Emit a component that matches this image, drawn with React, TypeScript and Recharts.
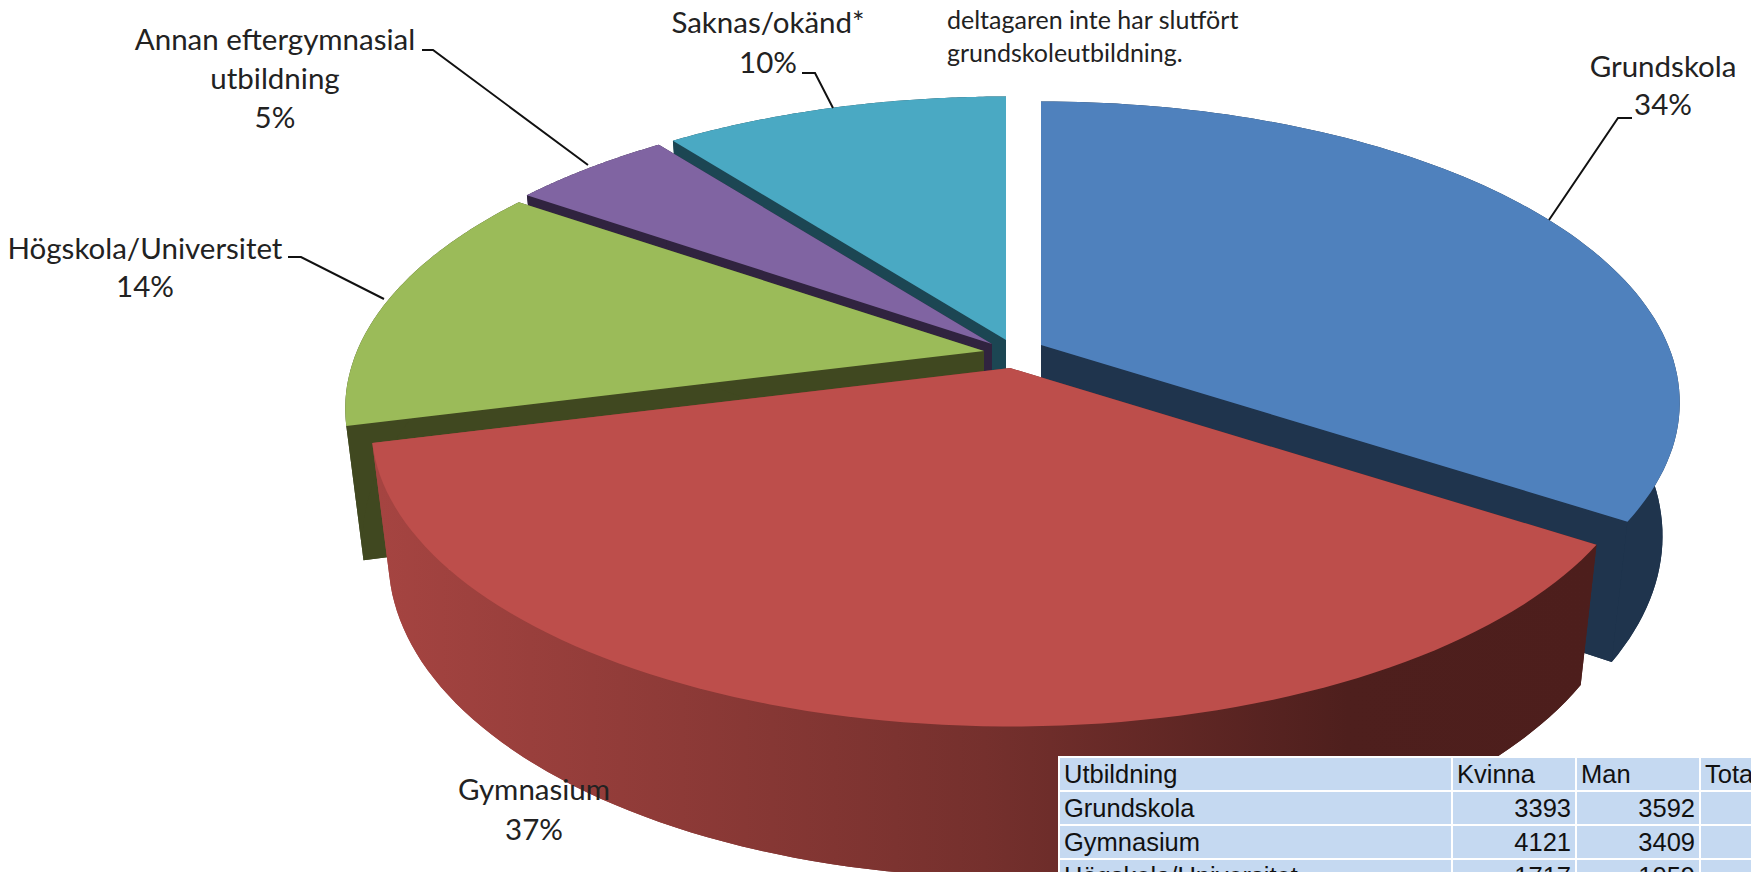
import { PieChart, Pie } from "recharts";

const names = ["Grundskola", "Gymnasium", "Högskola/Universitet", "Annan eftergymnasial utbildning", "Saknas/okänd*"];
// participants per group, the first three are the table totals, the last two estimated from the slices
const participants = [6985, 7530, 2776, 1000, 2140];

const tableHeader = ["Utbildning", "Kvinna", "Man", "Total"];
const tableNames = ["Grundskola", "Gymnasium", "Högskola/Universitet"];
const tableWomen = [3393, 4121, 1717];
const tableMen = [3592, 3409, 1059];

const noteLines = ["deltagaren inte har slutfört", "grundskoleutbildning."];

const pieData = names.map((name, i) => ({ name, value: participants[i] }));

// painted back to front, the pie is faked 3D so order matters
const drawOrder = ["Saknas/okänd*", "Annan eftergymnasial utbildning", "Högskola/Universitet", "Grundskola", "Gymnasium"];

const WIDTH = 1751;
const HEIGHT = 872;
const RX = 627;
const RY = 290;
const TILT = 0.191; // perspective, near edge is bigger than far edge
const DEPTH = 130;
const FLOOR = 0.973;

const SLICE_STYLE: Record<string, { top: string; side: string; apex: [number, number] }> = {
  Grundskola: { top: "#4f81bd", side: "#1f344d", apex: [1041, 345] },
  Gymnasium: { top: "#bd4e4b", side: "url(#redSide)", apex: [1010, 368] },
  "Högskola/Universitet": { top: "#9bbb59", side: "#404820", apex: [984, 351] },
  "Annan eftergymnasial utbildning": { top: "#8064a2", side: "#30233f", apex: [992, 344] },
  "Saknas/okänd*": { top: "#4aa9c3", side: "#1c4653", apex: [1006, 340] },
};

const LABELS: Record<string, { x: number; lines: { text: string; y: number }[]; leader?: string }> = {
  Grundskola: {
    x: 1663,
    lines: [{ text: "Grundskola", y: 77 }, { text: "34%", y: 115 }],
    leader: "1632,118 1618,118 1549,220",
  },
  Gymnasium: {
    x: 534,
    lines: [{ text: "Gymnasium", y: 800 }, { text: "37%", y: 840 }],
  },
  "Högskola/Universitet": {
    x: 145,
    lines: [{ text: "Högskola/Universitet", y: 259 }, { text: "14%", y: 297 }],
    leader: "288,257 301,257 384,299",
  },
  "Annan eftergymnasial utbildning": {
    x: 275,
    lines: [{ text: "Annan eftergymnasial", y: 50 }, { text: "utbildning", y: 89 }, { text: "5%", y: 128 }],
    leader: "422,50 433,50 588,165",
  },
  "Saknas/okänd*": {
    x: 768,
    lines: [{ text: "Saknas/okänd*", y: 33 }, { text: "10%", y: 73 }],
    leader: "802,73 815,73 833,108",
  },
};

function project(angle: number, floor: boolean) {
  const rad = (angle * Math.PI) / 180;
  const u = Math.cos(rad);
  const v = Math.sin(rad);
  const s = 1 / (1 + TILT * v);
  if (floor) return [RX * u * s * FLOOR, -RY * v * s * FLOOR + DEPTH * s];
  return [RX * u * s, -RY * v * s];
}

function arc(start: number, end: number, floor: boolean, ax: number, ay: number) {
  const pts: string[] = [];
  for (let i = 0; i <= 90; i++) {
    const [x, y] = project(start + ((end - start) * i) / 90, floor);
    pts.push(`${(ax + x).toFixed(1)},${(ay + y).toFixed(1)}`);
  }
  return pts;
}

function Slice(props: any) {
  const style = SLICE_STYLE[props.name];
  const [ax, ay] = style.apex;
  const { startAngle, endAngle } = props;
  const rim = arc(startAngle, endAngle, false, ax, ay);
  const floorRim = arc(startAngle, endAngle, true, ax, ay);
  const bottom = `${ax},${ay + DEPTH}`;
  const top = `${ax},${ay}`;
  return (
    <g>
      <polygon points={[bottom, ...floorRim].join(" ")} fill={style.side} />
      <polygon points={[top, rim[0], floorRim[0], bottom].join(" ")} fill={style.side} />
      <polygon points={[top, rim[rim.length - 1], floorRim[floorRim.length - 1], bottom].join(" ")} fill={style.side} />
      <polygon points={[...rim, ...[...floorRim].reverse()].join(" ")} fill={style.side} />
      <polygon points={[top, ...rim].join(" ")} fill={style.top} />
    </g>
  );
}

function SliceLabel(props: any) {
  const l = LABELS[props.name];
  return (
    <g>
      {l.leader && <polyline points={l.leader} fill="none" stroke="#111" strokeWidth={2} />}
      {l.lines.map((line) => (
        <text key={line.text} x={l.x} y={line.y} textAnchor="middle" fontFamily="Lato" fontSize={29.5} fill="#222">
          {line.text}
        </text>
      ))}
    </g>
  );
}

const cell = { background: "#c5d9f1", padding: "0 4px", lineHeight: "32px", height: 32, whiteSpace: "nowrap" as const };

export default function App() {
  const rows = tableNames.map((name, i) => [name, tableWomen[i], tableMen[i], ""]);
  return (
    <div style={{ position: "absolute", left: 0, top: 0, width: WIDTH, height: HEIGHT, overflow: "hidden", background: "#fff" }}>
      <PieChart width={WIDTH} height={HEIGHT}>
        <defs>
          <linearGradient id="redSide" gradientUnits="userSpaceOnUse" x1={380} y1={0} x2={1590} y2={0}>
            <stop offset="0%" stopColor="#a54441" />
            <stop offset="50%" stopColor="#75302d" />
            <stop offset="80%" stopColor="#4e1f1d" />
            <stop offset="100%" stopColor="#4d1e1c" />
          </linearGradient>
        </defs>
        {drawOrder.map((layer, i) => (
          <Pie
            key={layer}
            data={pieData}
            dataKey="value"
            nameKey="name"
            cx={1000}
            cy={350}
            outerRadius={RX}
            startAngle={90}
            endAngle={-270}
            isAnimationActive={false}
            shape={(p: any) => (p.name === layer ? <Slice {...p} /> : <g />)}
            label={i === drawOrder.length - 1 ? SliceLabel : false}
            labelLine={false}
          />
        ))}
      </PieChart>

      <div style={{ position: "absolute", left: 947, top: 3, fontFamily: "Lato", fontSize: 25, lineHeight: "33px", color: "#222" }}>
        {noteLines.map((line) => (
          <div key={line}>{line}</div>
        ))}
      </div>

      <div
        style={{
          position: "absolute",
          left: 1058,
          top: 756,
          background: "#fff",
          padding: 2,
          display: "grid",
          gridTemplateColumns: "391px 122px 122px 130px",
          gap: 2,
          fontFamily: "Liberation Sans",
          fontSize: 25.5,
          color: "#111",
        }}
      >
        {tableHeader.map((h) => (
          <div key={h} style={cell}>{h}</div>
        ))}
        {rows.map((row) =>
          row.map((v, j) => (
            <div key={`${row[0]}-${j}`} style={{ ...cell, textAlign: j === 0 ? "left" : "right" }}>{v}</div>
          ))
        )}
      </div>
    </div>
  );
}
